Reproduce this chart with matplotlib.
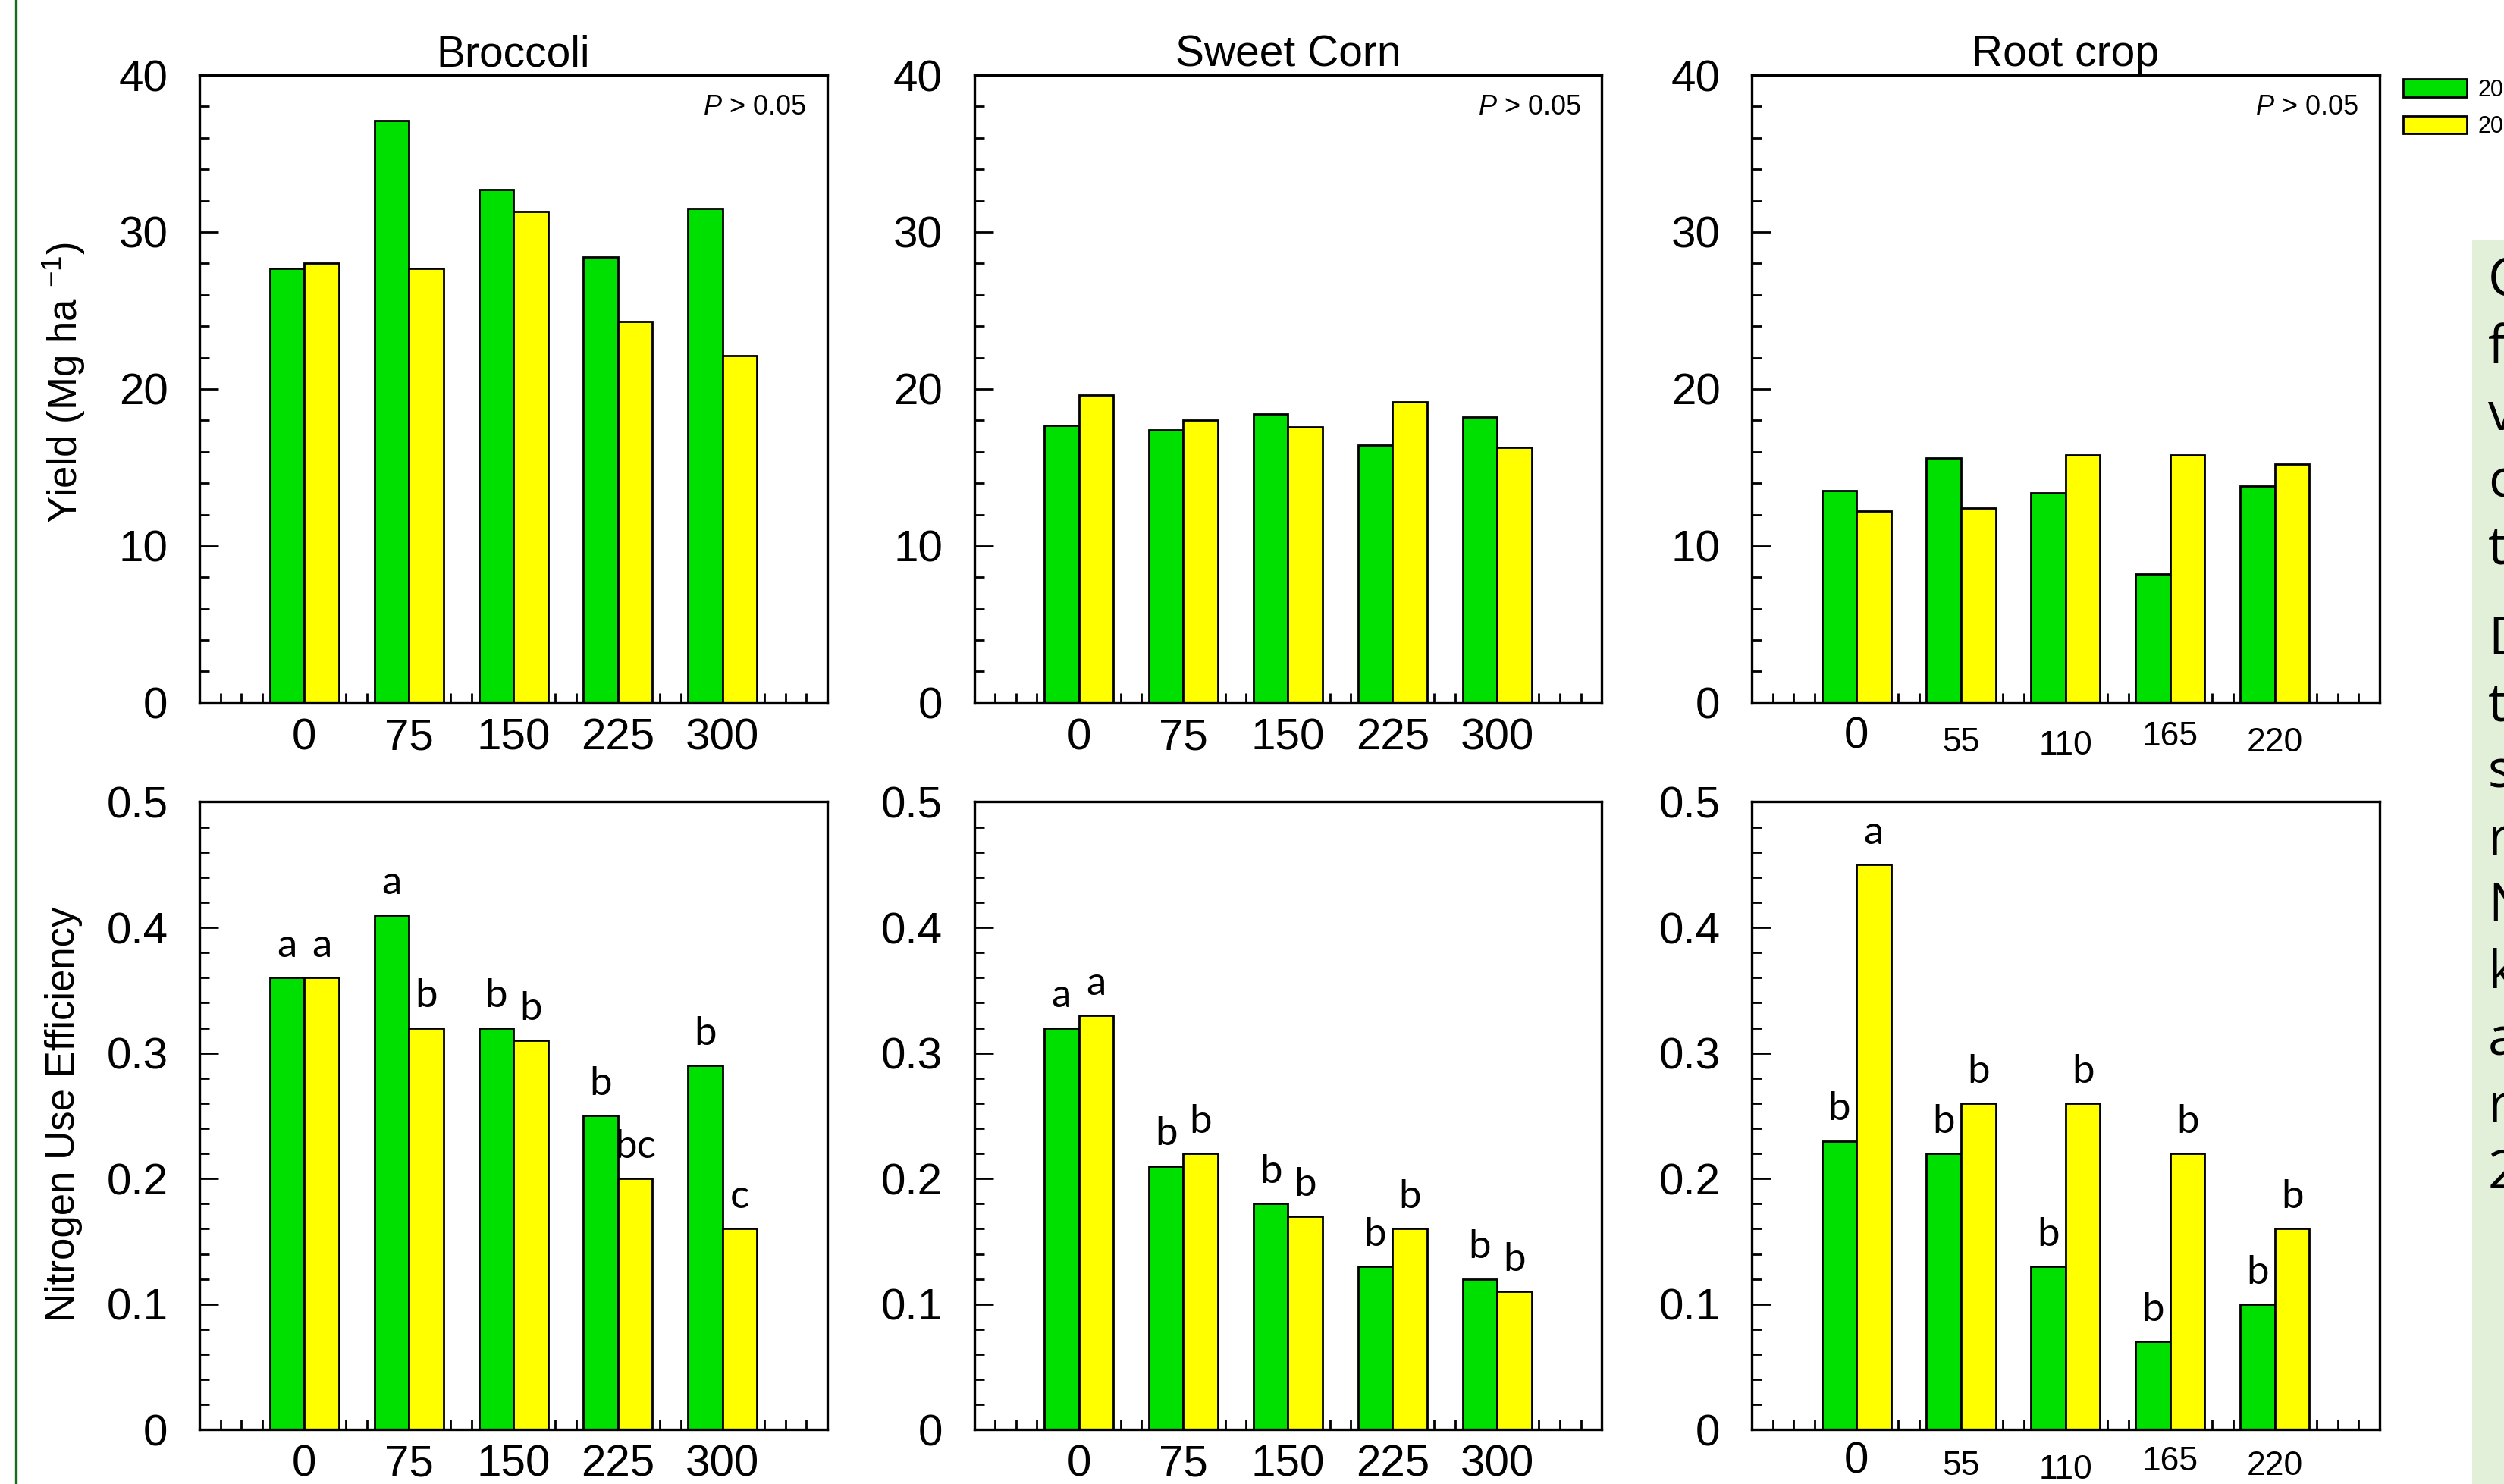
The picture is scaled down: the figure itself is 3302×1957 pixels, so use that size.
import matplotlib
matplotlib.use('Agg')
import matplotlib.pyplot as plt
from matplotlib.ticker import MultipleLocator, FixedLocator, FuncFormatter
import numpy as np

# datos
crops = ['Broccoli', 'Sweet Corn', 'Root crop']
rates = [['0', '75', '150', '225', '300'],
         ['0', '75', '150', '225', '300'],
         ['0', '55', '110', '165', '220']]

yield_y1 = [[27.7, 37.1, 32.7, 28.4, 31.5],
            [17.7, 17.4, 18.4, 16.4, 18.2],
            [13.5, 15.6, 13.4, 8.2, 13.8]]
yield_y2 = [[28.0, 27.7, 31.3, 24.3, 22.1],
            [19.6, 18.0, 17.6, 19.2, 16.3],
            [12.2, 12.4, 15.8, 15.8, 15.2]]

nue_y1 = [[0.36, 0.41, 0.32, 0.25, 0.29],
          [0.32, 0.21, 0.18, 0.13, 0.12],
          [0.23, 0.22, 0.13, 0.07, 0.10]]
nue_y2 = [[0.36, 0.32, 0.31, 0.20, 0.16],
          [0.33, 0.22, 0.17, 0.16, 0.11],
          [0.45, 0.26, 0.26, 0.22, 0.16]]

letters_y1 = [['a', 'a', 'b', 'b', 'b'],
              ['a', 'b', 'b', 'b', 'b'],
              ['b', 'b', 'b', 'b', 'b']]
letters_y2 = [['a', 'b', 'b', 'bc', 'c'],
              ['a', 'b', 'b', 'b', 'b'],
              ['a', 'b', 'b', 'b', 'b']]

legend_labels = ['20', '20']
side_lines_1 = ['C', 'f', 'v', 'c', 't']
side_lines_2 = ['D', 't', 's', 'r', 'N', 'k', 'a', 'r', '2']

GREEN = '#00e000'
YELLOW = '#ffff00'

plt.rcParams['font.family'] = ['Liberation Sans', 'DejaVu Sans']
plt.rcParams['mathtext.fontset'] = 'custom'
plt.rcParams['mathtext.rm'] = 'Liberation Sans'
plt.rcParams['mathtext.it'] = 'Liberation Sans:italic'

fig = plt.figure(figsize=(16.51, 9.785), dpi=200)

lefts = [125 / 1568, 610 / 1568, 1097 / 1568]
width = 393 / 1568
height = 393 / 929
bottoms = [1 - 440 / 929, 1 - 895 / 929]

# desplazamientos (pt) de las etiquetas raras de Root crop
root_off = [[16, 19, 20.5, 16, 19], [15, 17.5, 19, 15, 17.5]]
root_size = [21, 16, 16, 16, 16]

x = np.arange(5)
w = 0.33
handles = None
fmt = FuncFormatter(lambda v, p: '%g' % round(v, 3))

for row in range(2):
    for col in range(3):
        ax = fig.add_axes([lefts[col], bottoms[row], width, height])
        if row == 0:
            g, yv = yield_y1[col], yield_y2[col]
        else:
            g, yv = nue_y1[col], nue_y2[col]
        b1 = ax.bar(x - w / 2, g, w, color=GREEN, edgecolor='black', linewidth=1.0)
        b2 = ax.bar(x + w / 2, yv, w, color=YELLOW, edgecolor='black', linewidth=1.0)
        if handles is None:
            handles = [b1, b2]

        ax.set_xlim(-1, 5)
        ax.set_axisbelow(True)
        for s in ax.spines.values():
            s.set_linewidth(1.2)

        if row == 0:
            ax.set_ylim(0, 40)
            ax.yaxis.set_major_locator(MultipleLocator(10))
            ax.yaxis.set_minor_locator(MultipleLocator(2))
            ax.set_title(crops[col], fontsize=20.5, pad=3)
            ax.text(0.967, 0.949, '$\\it{P}$ > 0.05', transform=ax.transAxes,
                    ha='right', va='center', fontsize=13)
        else:
            ax.set_ylim(0, 0.5)
            ax.yaxis.set_major_locator(MultipleLocator(0.1))
            ax.yaxis.set_minor_locator(MultipleLocator(0.02))
            lg = letters_y1[col]
            ly = letters_y2[col]
            for i in range(5):
                ax.text(x[i] - w / 2, g[i] + 0.011, lg[i], ha='center', va='bottom',
                        fontsize=19, family=['Lato', 'DejaVu Sans'])
                ax.text(x[i] + w / 2, yv[i] + 0.011, ly[i], ha='center', va='bottom',
                        fontsize=19, family=['Lato', 'DejaVu Sans'])
        ax.yaxis.set_major_formatter(fmt)

        ax.xaxis.set_major_locator(FixedLocator(x))
        ax.xaxis.set_minor_locator(MultipleLocator(0.2))
        ax.tick_params(axis='x', which='both', direction='in', length=4.7, width=1.0,
                       top=False, pad=7, labelsize=21)
        ax.tick_params(axis='y', which='major', direction='in', length=9, width=1.0,
                       right=False, pad=15, labelsize=21)
        ax.tick_params(axis='y', which='minor', direction='in', length=4.5, width=1.0,
                       right=False)

        if col == 2:
            ax.set_xticklabels([])
            for i in range(5):
                ax.annotate(rates[col][i], xy=(x[i], 0), xycoords=('data', 'axes fraction'),
                            xytext=(0, -root_off[row][i]), textcoords='offset points',
                            ha='center', va='center', fontsize=root_size[i])
        else:
            ax.set_xticklabels(rates[col])

fig.text(40 / 1568, 0.742, 'Yield (Mg ha $^{-1}$)', rotation=90, ha='center', va='center',
         fontsize=19)
fig.text(40 / 1568, 0.249, 'Nitrogen Use Efficiency', rotation=90, ha='center', va='center',
         fontsize=19)

fig.legend(handles, legend_labels, loc='upper left', bbox_to_anchor=(0.9598, 0.947),
           frameon=False, fontsize=11, handlelength=2.75, handleheight=0.82,
           handletextpad=0.45, labelspacing=0.6, borderpad=0, borderaxespad=0)

# recuadro verde de la diapositiva, cortado por el borde
fig.patches.append(plt.Rectangle((1548 / 1568, 0), 1, 1 - 150 / 929, transform=fig.transFigure,
                                 facecolor='#e2f0d9', edgecolor='none', zorder=0))
for i, t in enumerate(side_lines_1):
    fig.text(1558 / 1568, 1 - (177 + 41.8 * i) / 929, t, ha='left', va='center',
             fontsize=25, family=['Open Sans', 'DejaVu Sans'])
for i, t in enumerate(side_lines_2):
    fig.text(1558 / 1568, 1 - (401 + 41.8 * i) / 929, t, ha='left', va='center',
             fontsize=25, family=['Open Sans', 'DejaVu Sans'])

# linea verde a la izquierda
fig.add_artist(plt.Line2D([10 / 1568, 10 / 1568], [0, 1], transform=fig.transFigure,
                          color='#1a6b1a', linewidth=1.2))

fig.savefig('out.png', dpi=200)
